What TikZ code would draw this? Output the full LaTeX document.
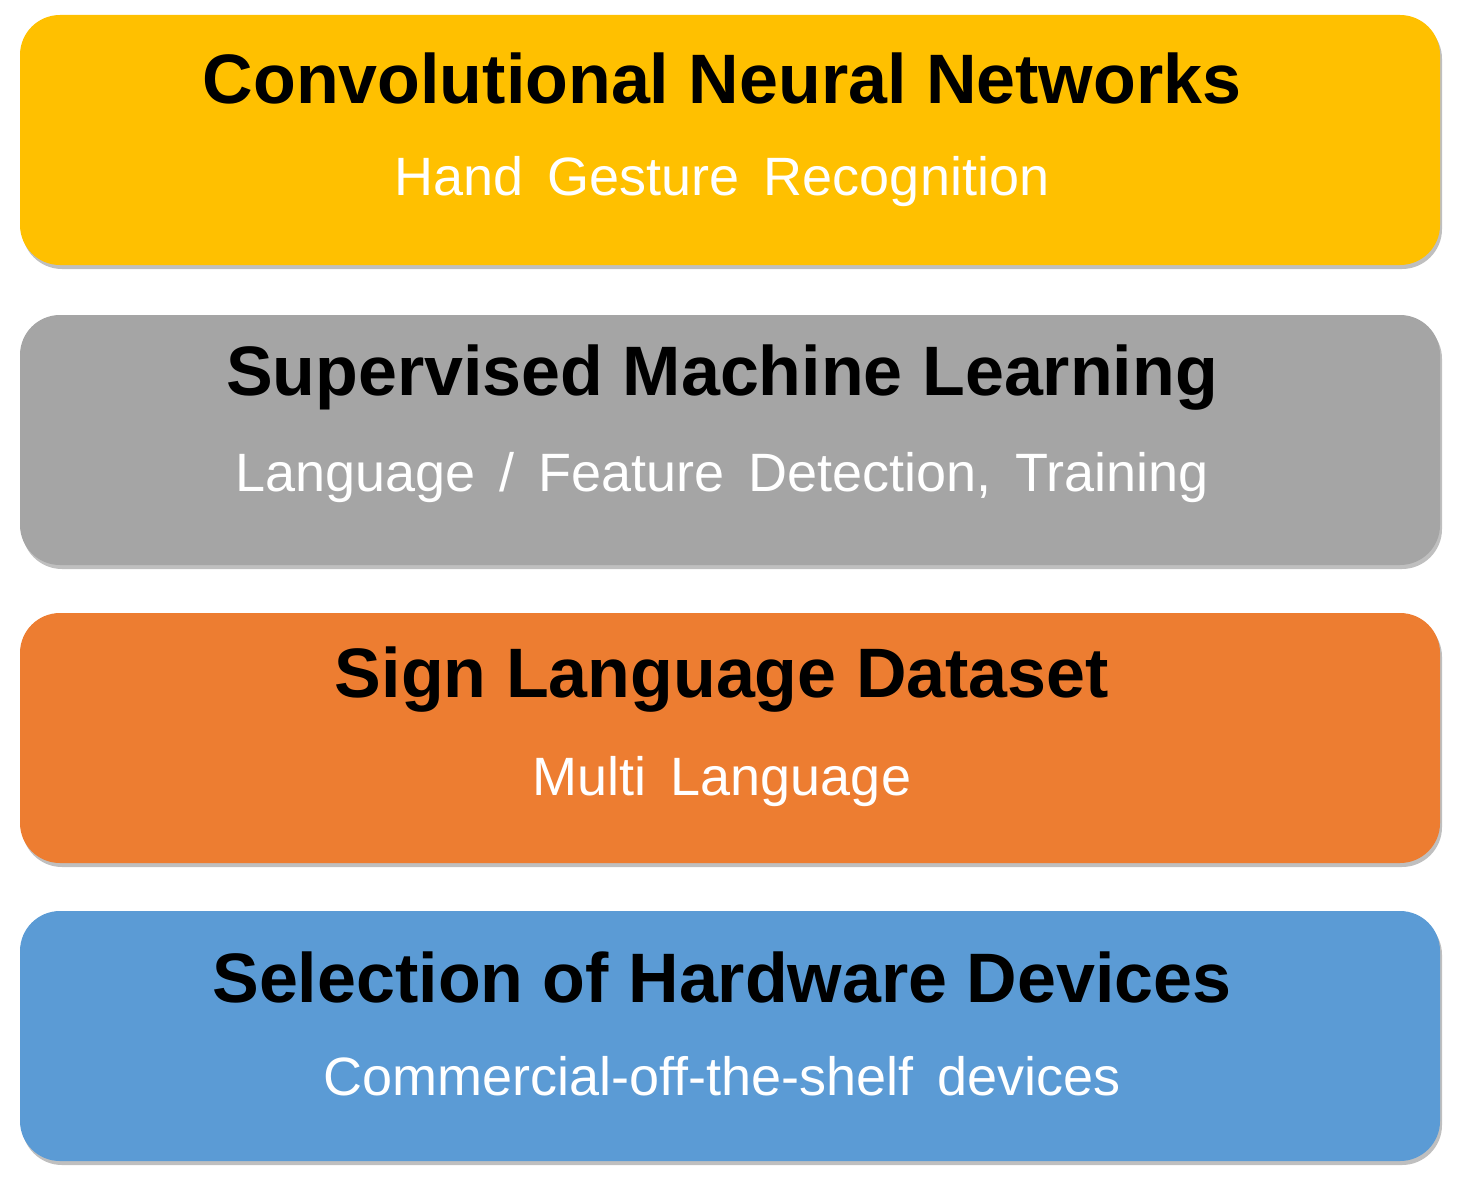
\documentclass[tikz,border=0pt]{standalone}
\usepackage{fontspec}
\setmainfont{Liberation Sans}
\newfontfamily\subfont{Liberation Sans}[WordSpace=1.6]
\definecolor{cyel}{HTML}{FFC000}
\definecolor{cgray}{HTML}{A5A5A5}
\definecolor{corg}{HTML}{ED7D31}
\definecolor{cblue}{HTML}{5B9BD5}
\begin{document}
\begin{tikzpicture}[x=0.5pt,y=-0.5pt,
  box/.style={draw=none,rounded corners=20pt},
  ttl/.style={font=\fontsize{35}{40}\selectfont\bfseries,text=black,anchor=center},
  sub/.style={font=\subfont\fontsize{27}{32}\selectfont,text=white,anchor=center}]
\useasboundingbox (0,0) rectangle (1460,1182);
\foreach \y/\c in {15/cyel,315/cgray,613/corg,911/cblue}{
  \fill[black!25,rounded corners=20pt] (22,\y+4) rectangle (1442,\y+254);
  \fill[\c,rounded corners=20pt] (20,\y) rectangle (1440,\y+250);
}
\node[ttl] (t1) at (722,78) {Convolutional Neural Networks};
\node[sub] (s1) at (722,182) {Hand Gesture Recognition};
\node[ttl] (t2) at (722,378) {Supervised Machine Learning};
\node[sub] (s2) at (722,478) {Language / Feature Detection, Training};
\node[ttl] (t3) at (722,680) {Sign Language Dataset};
\node[sub] (s3) at (722,782) {Multi Language};
\node[ttl] (t4) at (722,977) {Selection of Hardware Devices};
\node[sub] (s4) at (722,1076) {Commercial-off-the-shelf devices};
\end{tikzpicture}
\end{document}
